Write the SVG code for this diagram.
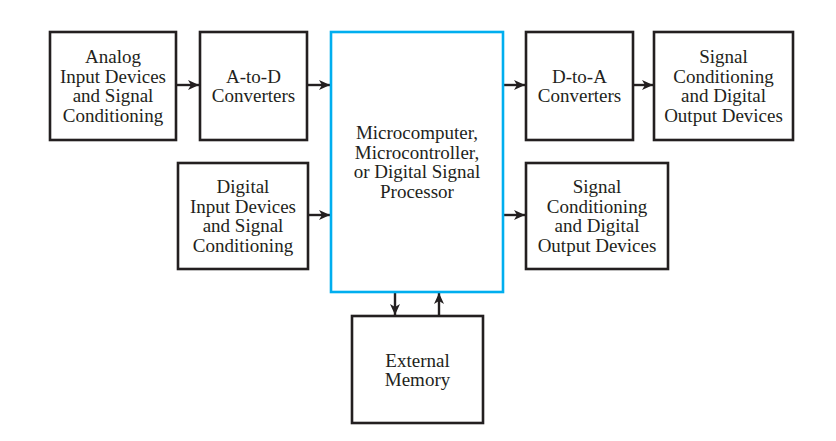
<svg xmlns="http://www.w3.org/2000/svg" width="836" height="441" viewBox="0 0 836 441">
<style>
.box{fill:#fff;stroke:#231f20;stroke-width:2.6}
.cpu{fill:#fff;stroke:#00aeef;stroke-width:2.6}
.t{font-family:"Liberation Serif","Times New Roman",serif;font-size:19px;fill:#231f20;text-anchor:middle}
.c{stroke:#231f20;stroke-width:2.4;fill:none}
</style>
<defs>
<marker id="ah" markerUnits="userSpaceOnUse" markerWidth="12" markerHeight="10" refX="11" refY="5" orient="auto">
<path d="M0,0 L11,5 L0,10 L3,5 Z" fill="#231f20"/>
</marker>
</defs>
<rect width="836" height="441" fill="#fff"/>
<g id="connectors">
<line class="c" x1="176" y1="85" x2="199" y2="85" marker-end="url(#ah)"/>
<line class="c" x1="307" y1="85" x2="330" y2="85" marker-end="url(#ah)"/>
<line class="c" x1="503" y1="85" x2="525" y2="85" marker-end="url(#ah)"/>
<line class="c" x1="633" y1="85" x2="653" y2="85" marker-end="url(#ah)"/>
<line class="c" x1="308" y1="215" x2="330" y2="215" marker-end="url(#ah)"/>
<line class="c" x1="503" y1="215" x2="525" y2="215" marker-end="url(#ah)"/>
<line class="c" x1="395" y1="292" x2="395" y2="315" marker-end="url(#ah)"/>
<line class="c" x1="439" y1="316" x2="439" y2="293" marker-end="url(#ah)"/>
</g>
<g id="analog">
<rect class="box" x="50" y="32" width="126" height="108"/>
<text class="t" x="113" y="63">Analog</text>
<text class="t" x="113" y="82.5">Input Devices</text>
<text class="t" x="113" y="102">and Signal</text>
<text class="t" x="113" y="121.5">Conditioning</text>
</g>
<g id="atod">
<rect class="box" x="200" y="32" width="107" height="108"/>
<text class="t" x="253.5" y="82.5">A-to-D</text>
<text class="t" x="253.5" y="102">Converters</text>
</g>
<g id="cpu">
<rect class="cpu" x="331" y="32" width="172" height="260"/>
<text class="t" x="417" y="139">Microcomputer,</text>
<text class="t" x="417" y="158.5">Microcontroller,</text>
<text class="t" x="417" y="178">or Digital Signal</text>
<text class="t" x="417" y="197.5">Processor</text>
</g>
<g id="dtoa">
<rect class="box" x="526" y="32" width="107" height="108"/>
<text class="t" x="579.5" y="82.5">D-to-A</text>
<text class="t" x="579.5" y="102">Converters</text>
</g>
<g id="sigout1">
<rect class="box" x="654" y="32" width="139" height="108"/>
<text class="t" x="723.5" y="63">Signal</text>
<text class="t" x="723.5" y="82.5">Conditioning</text>
<text class="t" x="723.5" y="102">and Digital</text>
<text class="t" x="723.5" y="121.5">Output Devices</text>
</g>
<g id="digital">
<rect class="box" x="178" y="163" width="130" height="106"/>
<text class="t" x="243" y="193">Digital</text>
<text class="t" x="243" y="212.5">Input Devices</text>
<text class="t" x="243" y="232">and Signal</text>
<text class="t" x="243" y="251.5">Conditioning</text>
</g>
<g id="sigout2">
<rect class="box" x="526" y="163" width="142" height="106"/>
<text class="t" x="597" y="193">Signal</text>
<text class="t" x="597" y="212.5">Conditioning</text>
<text class="t" x="597" y="232">and Digital</text>
<text class="t" x="597" y="251.5">Output Devices</text>
</g>
<g id="extmem">
<rect class="box" x="352" y="316" width="131" height="107"/>
<text class="t" x="417.5" y="366.5">External</text>
<text class="t" x="417.5" y="386">Memory</text>
</g>
</svg>
